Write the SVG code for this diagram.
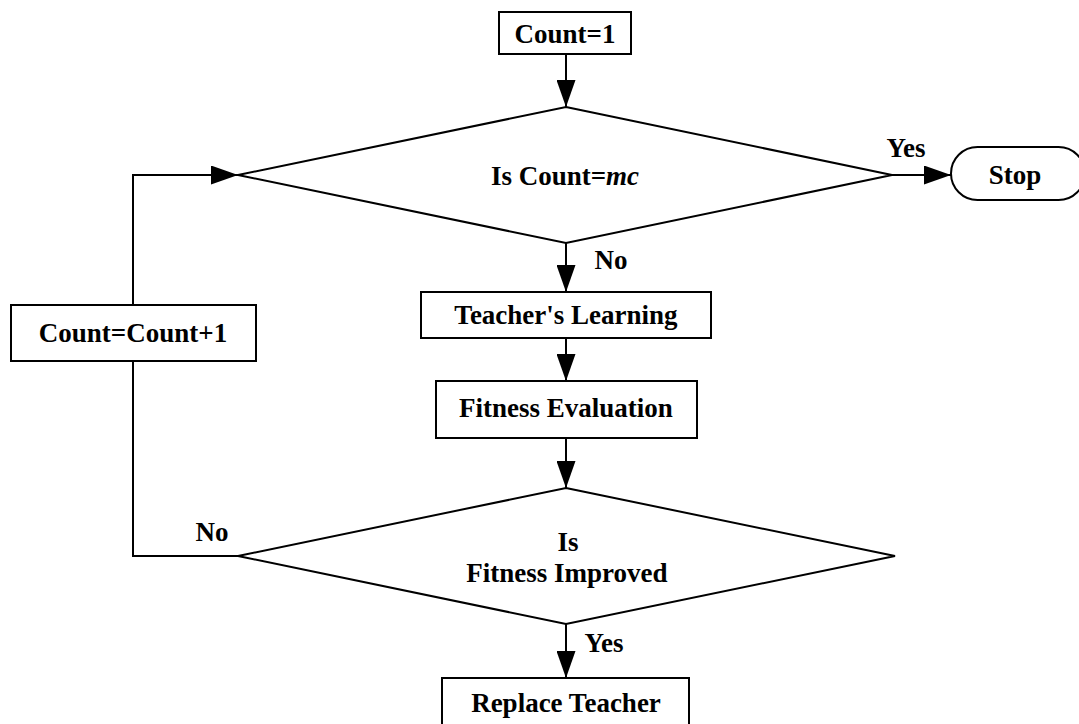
<svg xmlns="http://www.w3.org/2000/svg" width="1079" height="724" viewBox="0 0 1079 724">
  <style>
    .shape { fill: #ffffff; stroke: #000000; stroke-width: 2; }
    .line { fill: none; stroke: #000000; stroke-width: 2; }
    text { font-family: "Liberation Serif", "Times New Roman", serif; font-weight: bold; font-size: 27px; fill: #000000; }
    .mid { text-anchor: middle; }
  </style>
  <defs>
    <marker id="arrow" viewBox="0 0 27 19" refX="27" refY="9.5" markerWidth="27" markerHeight="19" markerUnits="userSpaceOnUse" orient="auto">
      <path d="M0,0 L27,9.5 L0,19 Z" fill="#000000"/>
    </marker>
  </defs>
  <rect width="1079" height="724" fill="#ffffff"/>

  <g id="connectors">
    <line class="line" x1="566" y1="54" x2="566" y2="107" marker-end="url(#arrow)"/>
    <line class="line" x1="892" y1="175" x2="951" y2="175" marker-end="url(#arrow)"/>
    <line class="line" x1="566" y1="243" x2="566" y2="292" marker-end="url(#arrow)"/>
    <line class="line" x1="566" y1="338" x2="566" y2="381" marker-end="url(#arrow)"/>
    <line class="line" x1="566" y1="438" x2="566" y2="488" marker-end="url(#arrow)"/>
    <line class="line" x1="566" y1="624" x2="566" y2="678" marker-end="url(#arrow)"/>
    <polyline class="line" points="238,556 133,556 133,361"/>
    <polyline class="line" points="133,305 133,175 238,175" marker-end="url(#arrow)"/>
    <text x="906" y="157" class="mid">Yes</text>
    <text x="611" y="269" class="mid">No</text>
    <text x="212" y="541" class="mid">No</text>
    <text x="604" y="652" class="mid">Yes</text>
  </g>

  <g id="start">
    <rect class="shape" x="499" y="12" width="132" height="42"/>
    <text x="565" y="43" class="mid">Count=1</text>
  </g>

  <g id="check-count">
    <polygon class="shape" points="566,107 892,175 566,243 238,175"/>
    <text x="565" y="185" class="mid">Is Count=<tspan font-style="italic">mc</tspan></text>
  </g>

  <g id="stop">
    <rect class="shape" x="951" y="147" width="134" height="53" rx="26.5" ry="26.5"/>
    <text x="1015" y="184" class="mid">Stop</text>
  </g>

  <g id="increment">
    <rect class="shape" x="11" y="305" width="245" height="56"/>
    <text x="133" y="342" class="mid">Count=Count+1</text>
  </g>

  <g id="teacher-learning">
    <rect class="shape" x="421" y="292" width="290" height="46"/>
    <text x="566" y="324" class="mid">Teacher's Learning</text>
  </g>

  <g id="fitness-evaluation">
    <rect class="shape" x="436" y="381" width="261" height="57"/>
    <text x="566" y="417" class="mid">Fitness Evaluation</text>
  </g>

  <g id="check-fitness">
    <polygon class="shape" points="566,488 895,556 566,624 238,556"/>
    <text x="568" y="551" class="mid">Is</text>
    <text x="567" y="582" class="mid">Fitness Improved</text>
  </g>

  <g id="replace-teacher">
    <rect class="shape" x="442" y="678" width="247" height="60"/>
    <text x="566" y="712" class="mid">Replace Teacher</text>
  </g>
</svg>
